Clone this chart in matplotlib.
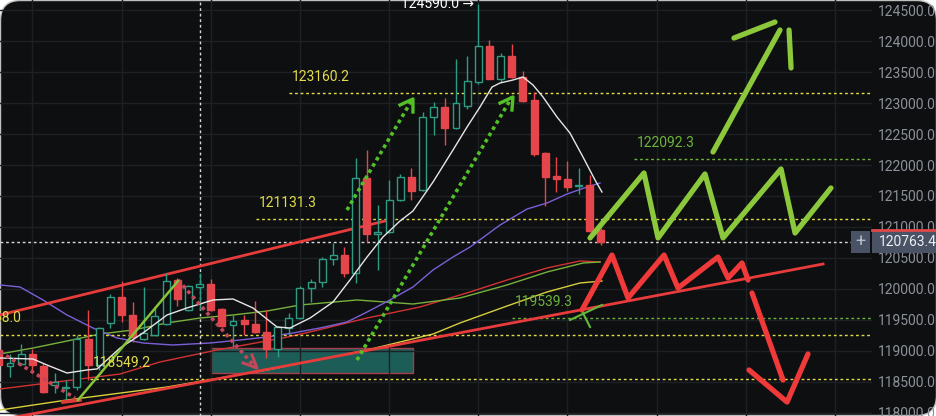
import numpy as np
import matplotlib.pyplot as plt
from matplotlib.patches import Rectangle, FancyBboxPatch
import matplotlib.transforms as mtransforms

plt.rcParams['font.family'] = ['Roboto', 'DejaVu Sans']

# --- candles ---
opens = [119016, 118758, 118790, 118952, 118758, 118452, 118403, 118419, 119194, 118774,
         119452, 119871, 119581, 119194, 119258, 119436, 120145, 119661, 120032, 120080,
         119677, 119420, 119500, 119436, 119307, 119032, 119371, 119532, 120016, 120113,
         120484, 120548, 120258, 121790, 120887, 120920, 121436, 121806, 121597, 122774,
         122935, 122597, 122952, 123339, 123919, 123387, 123758, 123419, 123048, 122194,
         121822, 121774, 121661, 121677, 120952]
highs = [119100, 118952, 119113, 119032, 118807, 118641, 118532, 119258, 119661, 119387,
         119919, 120129, 119790, 120032, 119726, 120258, 120177, 120064, 120258, 120161,
         119690, 119581, 119581, 119807, 119661, 119400, 119610, 120048, 120161, 120516,
         120742, 120677, 122113, 122242, 121355, 121758, 121855, 121952, 122855, 123016,
         123081, 123710, 123758, 124590, 124016, 123806, 123952, 123516, 123177, 122210,
         122129, 122065, 121952, 121839, 120980]
lows = [118700, 118581, 118770, 118694, 118320, 118323, 118210, 118370, 118532, 118694,
        119371, 119468, 119145, 119180, 119240, 119420, 119726, 119640, 119661, 119640,
        119390, 119065, 119258, 119290, 118887, 118903, 119258, 119520, 119790, 120032,
        120387, 120194, 120097, 120758, 120307, 120900, 121420, 121436, 121580, 122484,
        122323, 122580, 122900, 123300, 123380, 123339, 123400, 123020, 122145, 121339,
        121564, 121581, 121532, 120920, 120710]
closes = [118774, 118807, 118952, 118774, 118339, 118500, 118419, 119194, 118774, 119371,
          119871, 119581, 119226, 119291, 119564, 120129, 119839, 120048, 120080, 119661,
          119403, 119484, 119436, 119307, 119032, 119387, 119532, 120016, 120113, 120484,
          120548, 120258, 121790, 120887, 120920, 121436, 121806, 121581, 122774, 122935,
          122597, 123000, 123355, 123919, 123387, 123758, 123419, 123032, 122177, 121806,
          121774, 121645, 121677, 120936, 120763.4]

# --- moving averages (bar position, price) ---
ma_white_x = [0.1, 3.06, 4.32, 6.11, 7.91, 8.8, 10.87, 12.93, 15.08, 16.87, 19.21, 21.0, 22.79,
              24.95, 26.11, 27.91, 29.97, 31.49, 33.02, 34.45, 35.98, 37.14, 38.94, 40.73,
              41.99, 43.15, 44.23, 44.95, 46.11, 47.01, 47.91, 48.8, 50.06, 51.22, 52.39,
              53.47, 54.09]
ma_white_y = [118887, 118871, 118774, 118645, 118694, 118710, 119048, 119291, 119581, 119694,
              119823, 119839, 119694, 119387, 119371, 119532, 119790, 120145, 120516, 120839,
              121097, 121258, 121726, 122242, 122613, 122935, 123258, 123323, 123371, 123419,
              123290, 123097, 122774, 122516, 122129, 121758, 121564]
ma_purple_x = [0.1, 1.9, 3.96, 6.11, 8.44, 10.6, 12.93, 15.62, 18.94, 21.63, 24.05, 26.38,
               28.8, 31.22, 33.02, 35.08, 37.14, 38.94, 40.73, 42.26, 44.95, 47.37, 49.16,
               50.96, 52.75, 53.92]
ma_purple_y = [120065, 120032, 119823, 119581, 119371, 119210, 119129, 119097, 119129, 119177,
               119226, 119291, 119371, 119468, 119629, 119823, 120032, 120307, 120516, 120677,
               121032, 121290, 121387, 121532, 121645, 121710]
ma_green_x = [0.1, 3.06, 6.11, 9.07, 12.03, 15.08, 18.04, 21.0, 24.05, 27.01, 32.12, 37.14,
              41.36, 45.58, 49.16, 52.39, 53.92]
ma_green_y = [118952, 119048, 119161, 119274, 119339, 119452, 119532, 119581, 119645, 119742,
              119823, 119758, 119855, 120065, 120274, 120419, 120436]
ma_red_x = [0.1, 10.87, 14.45, 19.57, 25.48, 27.91, 33.02, 37.77, 42.26, 45.58, 49.16, 52.12, 53.92]
ma_red_y = [118387, 118629, 118823, 119016, 119210, 119307, 119532, 119710, 119952, 120145,
            120339, 120452, 120436]
ma_yellow_x = [0.1, 6.11, 15.08, 24.05, 33.02, 38.94, 41.36, 45.58, 49.16, 52.12, 54.09]
ma_yellow_y = [118048, 118210, 118419, 118694, 119016, 119274, 119452, 119726, 119952, 120097, 120129]

# --- horizontal levels ---
level_values = [123160.2, 121131.3, 122092.3, 119539.3, 119258.0, 118549.2]
level_starts = [26.0, 23.06, 56.98, 46.02, 0.1, 8.18]
level_kinds = ['y', 'y', 'g', 'g', 'y', 'y']
last_price = 120763.4
top_high = 124590.0
top_high_bar = 43
cross_bar = 18

# --- drawn annotations (bar position, price) ---
chan_up_x, chan_up_y = [0.1, 35.0], [119581, 121113]
chan_low_x, chan_low_y = [0.1, 73.92], [117887, 120403]
zone_x, zone_y = [19.03, 37.14], [118645, 119048]

zig_green_x = [53.02, 57.86, 59.12, 63.33, 64.95, 70.15, 71.41, 74.63]
zig_green_y = [120823, 121871, 120823, 121855, 120823, 121936, 120903, 121629]
up_arrow_x, up_arrow_y = [64.05, 70.06], [122210, 124177]
up_head1_x, up_head1_y = [65.93, 69.61], [124048, 124306]
up_head2_x, up_head2_y = [70.87, 71.05], [124177, 123565]

zig_red_x = [52.3, 54.99, 56.43, 59.66, 60.91, 64.5, 65.4, 66.65, 67.19]
zig_red_y = [119661, 120548, 119855, 120548, 120016, 120516, 120177, 120419, 120145]
dn_arrow_x, dn_arrow_y = [67.55, 70.33], [119935, 118532]
dn_head_x, dn_head_y = [67.28, 70.69, 72.57], [118694, 118177, 118952]

tick_a_x, tick_a_y = [51.22, 54.09], [119500, 119742]
tick_b_x, tick_b_y = [52.39, 53.02], [119613, 119387]

dot_a_x, dot_a_y = [31.22, 37.05], [121274, 123048]
dot_a_head_x, dot_a_head_y = [35.98, 37.14, 37.14], [122968, 123065, 122855]
dot_b_x, dot_b_y = [32.12, 46.02], [118855, 123097]
dot_b_head_x, dot_b_head_y = [44.95, 46.11, 46.02], [122999, 123097, 122887]
pink_a_x, pink_a_y = [16.07, 23.06], [120145, 118726]
pink_a_head_x, pink_a_head_y = [21.9, 23.15, 22.7], [118807, 118726, 118935]
pink_b_x, pink_b_y = [0.1, 6.83], [118984, 118242]
pink_b_head_x, pink_b_head_y = [5.75, 7.28], [118177, 118210]
green_leg_x, green_leg_y = [7.1, 16.07], [118210, 120129]

BG = '#0e0f11'
UP = '#2e9c82'
DOWN = '#e5464b'
YEL = '#e3dc48'
GRN = '#6cb33a'

fig = plt.figure(figsize=(9.37, 4.16), dpi=100)
fig.patch.set_facecolor('white')
fig.add_artist(FancyBboxPatch((0.5, 0.5), 936, 415, boxstyle='round,pad=0,rounding_size=20',
                              transform=None, facecolor=BG, edgecolor='#bfbfbf', lw=1, zorder=-10))

ax = fig.add_axes([0, 0, 872 / 937, 1])
ax.set_facecolor('none')
x_left, x_right = 0.103, 78.31
ax.set_xlim(x_left, x_right)
ax.set_ylim(117951.6, 124661.3)
for s in ax.spines.values():
    s.set_visible(False)

ax.set_xticks(np.arange(3, 78, 8))
ax.set_yticks(np.arange(118000, 124501, 500))
ax.set_yticklabels([f'{v:.1f}' for v in np.arange(118000, 124501, 500)])
ax.yaxis.tick_right()
ax.tick_params(axis='x', length=0, labelbottom=False)
ax.tick_params(axis='y', length=0, pad=4.5, labelcolor='#8c9199', labelsize=10)
ax.grid(True, color='#1d2025', lw=1, zorder=0)

# zone box
ax.add_patch(Rectangle((zone_x[0], zone_y[0]), zone_x[1] - zone_x[0], zone_y[1] - zone_y[0],
                       facecolor='#1e6660', edgecolor='#b8404c', lw=1, alpha=0.9, zorder=1))

# moving averages
ax.plot(ma_yellow_x, ma_yellow_y, color='#d6cf3c', lw=1, zorder=2)
ax.plot(ma_red_x, ma_red_y, color='#d23232', lw=1, zorder=2)
ax.plot(ma_green_x, ma_green_y, color='#78b03c', lw=1, zorder=2)
ax.plot(ma_purple_x, ma_purple_y, color='#7b5fd8', lw=1, zorder=2)

# levels
for v, st, k in zip(level_values, level_starts, level_kinds):
    c = YEL if k == 'y' else GRN
    ax.hlines(v, st, x_right, colors=c, lw=1, linestyles=(0, (2, 2)), zorder=2)
    if st > 1:
        ax.annotate(f'{v:.1f}', (st, v), xytext=(3, 16), textcoords='offset pixels',
                    color=c, fontsize=10, va='center', ha='left', zorder=6)
    else:
        ax.annotate(f'{v:.1f}', (2.08, v), xytext=(0, 17), textcoords='offset pixels',
                    color=c, fontsize=10, va='center', ha='right', zorder=6)

# crosshair
ax.axhline(last_price, color='#d8d8d8', lw=1, ls=(0, (2, 2)), zorder=2)
ax.axvline(cross_bar, color='#d8d8d8', lw=1, ls=(0, (2, 2)), zorder=2)

# channel lines
ax.plot(chan_up_x, chan_up_y, color='#e83b3b', lw=2, zorder=2.5)
ax.plot(chan_low_x, chan_low_y, color='#e83b3b', lw=2, zorder=2.5)

# candles
idx = np.arange(len(opens))
o = np.array(opens, float)
c = np.array(closes, float)
up = c >= o
cols = [UP if u else DOWN for u in up]
faces = [BG if u else DOWN for u in up]
ax.vlines(idx, lows, highs, colors=cols, lw=1, zorder=3)
ax.bar(idx, np.abs(c - o), bottom=np.minimum(o, c), width=0.62, color=faces,
       edgecolor=cols, lw=1, zorder=4)

ax.plot(ma_white_x, ma_white_y, color='#e6e6e6', lw=1, zorder=4.5)

# dotted arrows
dk = dict(lw=2.6, ls=(0, (1, 1)), zorder=5)
ax.plot(dot_a_x, dot_a_y, color='#52c026', **dk)
ax.plot(dot_b_x, dot_b_y, color='#52c026', **dk)
ax.plot(dot_a_head_x, dot_a_head_y, color='#52c026', lw=2.4, zorder=5)
ax.plot(dot_b_head_x, dot_b_head_y, color='#52c026', lw=2.4, zorder=5)
ax.plot(pink_a_x, pink_a_y, color='#c2475a', **dk)
ax.plot(pink_b_x, pink_b_y, color='#c2475a', **dk)
ax.plot(pink_a_head_x, pink_a_head_y, color='#c2475a', lw=2.2, zorder=5)
ax.plot(pink_b_head_x, pink_b_head_y, color='#e03a3a', lw=2.6, zorder=5)
ax.plot(green_leg_x, green_leg_y, color='#86c43a', lw=1.8, zorder=5)

# hand drawn scenarios
hk = dict(lw=3.8, solid_capstyle='round', solid_joinstyle='round', zorder=6)
for xs, ys in [(zig_green_x, zig_green_y), (up_arrow_x, up_arrow_y),
               (up_head1_x, up_head1_y), (up_head2_x, up_head2_y)]:
    ax.plot(xs, ys, color='#8cc83c', **hk)
for xs, ys in [(zig_red_x, zig_red_y), (dn_arrow_x, dn_arrow_y), (dn_head_x, dn_head_y)]:
    ax.plot(xs, ys, color='#f03a3a', **hk)
ax.plot(tick_a_x, tick_a_y, color='#62b83a', lw=1.5, zorder=6)
ax.plot(tick_b_x, tick_b_y, color='#62b83a', lw=1.5, zorder=6)

# top high label
ax.annotate(f'{top_high:.1f} \u2192', (top_high_bar, top_high), xytext=(-4, 0),
            textcoords='offset pixels', color='white', fontsize=10, ha='right', va='center',
            zorder=6)

# last price box on the axis
tr = mtransforms.blended_transform_factory(ax.transAxes, ax.transData)
half = 11 * 16.129
ax.add_patch(Rectangle((1.0, last_price - half), 0.076, 2 * half, transform=tr,
                       facecolor='#4a5366', edgecolor='none', clip_on=False, zorder=7))
ax.add_patch(Rectangle((0.976, last_price - half), 0.022, 2 * half, transform=tr,
                       facecolor='#4a5366', edgecolor='none', clip_on=False, zorder=7))
ax.plot([1.0, 1.076], [120952, 120952], transform=tr, color='#e04848', lw=2,
        clip_on=False, zorder=7.5)
ax.text(1.008, last_price, f'{last_price:.1f}', transform=tr, color='#eceff3', fontsize=10,
        va='center', ha='left', zorder=8, clip_on=False)
ax.text(0.987, last_price, '+', transform=tr, color='#b8bec8', fontsize=13,
        va='center', ha='center', zorder=8, clip_on=False)

fig.savefig('out.png', dpi=100, facecolor=fig.get_facecolor())
